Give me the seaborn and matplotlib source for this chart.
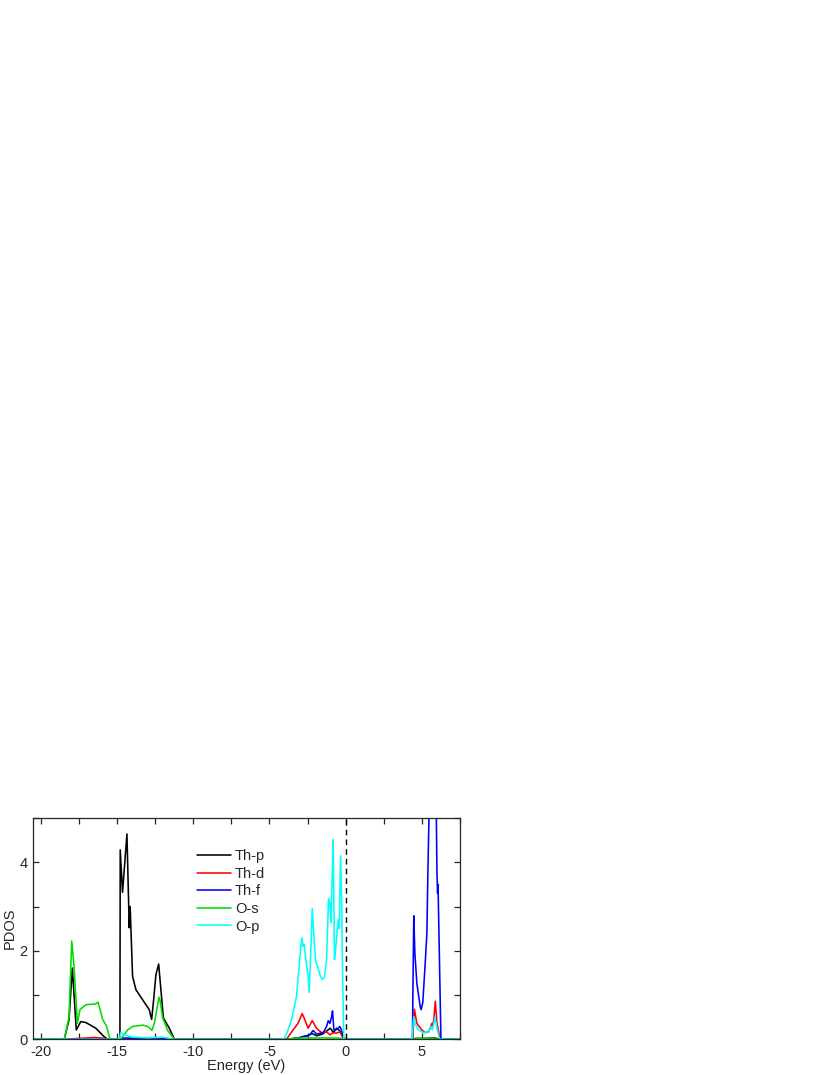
import numpy as np
import pandas as pd
import matplotlib
matplotlib.use("Agg")
import matplotlib.pyplot as plt
from matplotlib.ticker import MultipleLocator
import seaborn as sns

# ---- data ----
thp_e = [-20.5, -18.45, -18.14, -17.92, -17.66, -17.37, -17.04, -16.38, -15.84, -15.6,
         -14.80, -14.78, -14.63, -14.34, -14.19, -14.13, -13.97, -13.75, -12.88, -12.72,
         -12.59, -12.44, -12.26, -11.95, -11.56, -11.23,
         -4.0, -3.0, -2.8, -2.5, -2.2, -1.9, -1.5, -1.2, -1.0, -0.8, -0.6, -0.4, -0.25, -0.1,
         4.4, 4.6, 5.2, 5.8, 6.2, 7.5]
thp_v = [0, 0, 0.44, 1.61, 0.21, 0.40, 0.38, 0.25, 0.06, 0,
         0, 4.28, 3.32, 4.64, 2.52, 3.00, 1.42, 1.12, 0.67, 0.45,
         0.89, 1.46, 1.70, 0.48, 0.25, 0,
         0, 0.03, 0.06, 0.08, 0.13, 0.08, 0.12, 0.20, 0.25, 0.15, 0.25, 0.20, 0.10, 0,
         0, 0.02, 0.02, 0.03, 0, 0]

thd_e = [-20.5, -18.3, -17.5, -16.5, -16.0, -15.5,
         -4.0, -3.88, -3.45, -3.12, -2.85, -2.68, -2.46, -2.19, -1.91, -1.58, -1.25, -1.03,
         -0.82, -0.59, -0.38, -0.16, -0.05,
         4.4, 4.45, 4.51, 4.67, 5.0, 5.22, 5.44, 5.66, 5.72, 5.79, 5.88, 5.99, 6.2, 7.5]
thd_v = [0, 0, 0.02, 0.04, 0.03, 0,
         0, 0, 0.21, 0.36, 0.58, 0.45, 0.25, 0.42, 0.25, 0.15, 0.17, 0.10,
         0.15, 0.14, 0.17, 0.02, 0,
         0, 0.30, 0.68, 0.36, 0.21, 0.15, 0.17, 0.36, 0.30, 0.48, 0.86, 0.36, 0, 0]

thf_e = [-20.5, -14.8, -14.5, -13.0, -12.2, -11.3,
         -3.7, -3.2, -2.79, -2.35, -2.13, -1.91, -1.47, -1.25, -1.14, -1.03, -0.92, -0.86,
         -0.77, -0.59, -0.38, -0.27, -0.1,
         4.38, 4.41, 4.47, 4.54, 4.67, 4.89, 4.95, 5.06, 5.22, 5.33, 5.39, 5.5, 5.7,
         5.94, 5.99, 6.03, 6.06, 6.25, 7.5]
thf_v = [0, 0, 0.03, 0.02, 0.03, 0,
         0, 0.03, 0.06, 0.10, 0.20, 0.12, 0.15, 0.29, 0.42, 0.36, 0.51, 0.64,
         0.21, 0.22, 0.29, 0.21, 0,
         0, 1.0, 2.79, 1.95, 1.27, 0.74, 0.67, 0.83, 1.73, 2.41, 3.70, 5.6, 6.5,
         5.3, 3.73, 3.3, 3.5, 0, 0]

os_e = [-20.5, -18.45, -18.14, -17.96, -17.81, -17.59, -17.42, -17.04, -16.38, -16.23,
        -15.93, -15.67, -15.45,
        -14.75, -14.3, -13.97, -13.3, -12.96, -12.7, -12.53, -12.24, -12.17, -12.0,
        -11.67, -11.23,
        -4.0, -3.0, -1.5, -0.5, -0.1,
        4.4, 4.8, 5.6, 6.1, 7.5]
os_v = [0, 0, 0.51, 2.22, 1.65, 0.36, 0.67, 0.78, 0.80, 0.84,
        0.45, 0.29, 0,
        0, 0.21, 0.29, 0.32, 0.29, 0.20, 0.38, 0.95, 0.88, 0.48,
        0.20, 0,
        0, 0.03, 0.03, 0.03, 0,
        0, 0.02, 0.02, 0, 0]

op_e = [-20.5, -14.82, -14.75, -14.5, -14.0, -13.0, -12.0, -11.3,
        -4.06, -3.85, -3.55, -3.22, -3.01, -2.88, -2.79, -2.72, -2.61, -2.46, -2.39,
        -2.28, -2.19, -2.08, -1.97, -1.84, -1.69, -1.54, -1.40, -1.25, -1.16, -1.12,
        -1.03, -0.96, -0.88, -0.82, -0.78, -0.73, -0.64, -0.49, -0.42, -0.33, -0.27,
        -0.20, -0.12,
        4.35, 4.47, 4.55, 4.78, 5.1, 5.44, 5.6, 5.68, 5.79, 5.86, 5.99, 6.16, 7.5]
op_v = [0, 0, 0.15, 0.10, 0.05, 0.03, 0.05, 0,
        0, 0.14, 0.44, 0.97, 1.80, 2.30, 2.10, 2.15, 1.80, 1.42, 1.06,
        2.03, 2.95, 2.33, 1.77, 1.65, 1.46, 1.35, 1.39, 1.80, 2.71, 3.18,
        3.06, 2.64, 3.70, 4.51, 3.40, 1.80, 2.10, 2.70, 2.50, 4.15, 3.32,
        1.50, 0,
        0, 0.51, 0.36, 0.21, 0.15, 0.17, 0.29, 0.21, 0.36, 0.50, 0.25, 0, 0]

labels = ["Th-p", "Th-d", "Th-f", "O-s", "O-p"]
colors = ["#000000", "#ff0000", "#0000ff", "#00dd00", "#00ffff"]
series = [(thp_e, thp_v), (thd_e, thd_v), (thf_e, thf_v), (os_e, os_v), (op_e, op_v)]

x_ticks = [-20, -15, -10, -5, 0, 5]
y_ticks = [0, 2, 4]

# ---- plotting ----
sns.set_style("ticks")
plt.rcParams["font.family"] = ["Liberation Sans", "DejaVu Sans"]
plt.rcParams["font.size"] = 10
plt.rcParams["axes.unicode_minus"] = False

fig = plt.figure(figsize=(8.3, 10.75), dpi=100)
ax = fig.add_axes([33 / 830, 1 - 1039.3 / 1075, (460 - 33) / 830, (1039.3 - 818) / 1075])

for (e, v), lab, col in zip(series, labels, colors):
    df = pd.DataFrame({"Energy": e, "PDOS": v})
    sns.lineplot(data=df, x="Energy", y="PDOS", ax=ax, color=col, label=lab,
                 estimator=None, sort=False, linewidth=1.15)

ax.axvline(0, color="black", linestyle=(0, (4, 3)), linewidth=1.0)

ax.set_xlim(-20.5, 7.5)
ax.set_ylim(0, 5)
ax.set_xticks(x_ticks)
ax.set_yticks(y_ticks)
ax.xaxis.set_minor_locator(MultipleLocator(2.5))
ax.yaxis.set_minor_locator(MultipleLocator(1))
ax.tick_params(which="both", direction="in", top=True, right=True, length=4, width=0.9,
               labelsize=10.5, pad=4)
ax.tick_params(which="both", labelright=False, labeltop=False)
for s in ax.spines.values():
    s.set_linewidth(0.9)
ax.set_xlabel("Energy (eV)", fontsize=10.5, labelpad=0)
ax.set_ylabel("PDOS", fontsize=10.5, labelpad=2)

ax.legend(loc="upper left", bbox_to_anchor=(0.384, 0.86), frameon=False, fontsize=10.5,
          handlelength=2.3, handletextpad=0.3, labelspacing=0.25, borderpad=0,
          borderaxespad=0)

fig.savefig("out.png", dpi=100)
